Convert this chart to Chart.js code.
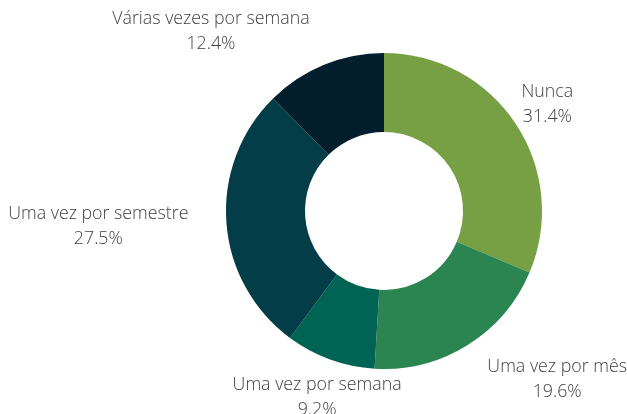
<!DOCTYPE html>
<html>
<head>
<meta charset="utf-8">
<script src="https://cdn.jsdelivr.net/npm/chart.js@4"></script>
<style>
  html, body { margin: 0; padding: 0; background: #fff; }
  #wrap { width: 627px; height: 414px; position: relative; }
</style>
</head>
<body>
<div id="wrap"><canvas id="myChart"></canvas></div>
<script>
const categories = [
  'Nunca',
  'Uma vez por mês',
  'Uma vez por semana',
  'Uma vez por semestre',
  'Várias vezes por semana',
];
const percents = [31.4, 19.6, 9.2, 27.5, 12.4];

const sliceColors = ['#76a043', '#2b8550', '#006353', '#033d47', '#031f2d'];
// how each label block sits against its anchor point
const labelAlign = ['center', 'left', 'center', 'right', 'right'];

const outsideLabels = {
  id: 'outsideLabels',
  afterDraw(chart) {
    const ctx = chart.ctx;
    const meta = chart.getDatasetMeta(0);
    ctx.save();
    ctx.font = '300 17.8px "Open Sans"';
    ctx.fillStyle = '#404040';
    ctx.textAlign = 'center';
    ctx.textBaseline = 'middle';
    meta.data.forEach((arc, i) => {
      const p = arc.getProps(['x', 'y', 'startAngle', 'endAngle', 'outerRadius'], true);
      const mid = (p.startAngle + p.endAngle) / 2;
      const r = p.outerRadius + 38;
      const ax = p.x + Math.cos(mid) * r;
      const ay = p.y + Math.sin(mid) * r + 2;
      const lines = [categories[i], percents[i].toFixed(1) + '%'];
      const w = Math.max(...lines.map(t => ctx.measureText(t).width));
      let cx = ax;
      if (labelAlign[i] === 'left') cx = ax + w / 2;
      if (labelAlign[i] === 'right') cx = ax - w / 2;
      ctx.fillText(lines[0], cx, ay - 12.5);
      ctx.fillText(lines[1], cx, ay + 12.5);
    });
    ctx.restore();
  }
};

window.onload = function() {
  const config = {
    type: 'doughnut',
    data: {
      labels: categories,
      datasets: [{
        data: percents,
        backgroundColor: sliceColors,
        borderWidth: 0,
      }]
    },
    options: {
      responsive: true,
      maintainAspectRatio: false,
      animation: false,
      cutout: '50%',
      layout: {
        padding: { top: 53, bottom: 45, left: 226, right: 85 }
      },
      plugins: {
        legend: { display: false },
        tooltip: { enabled: false },
      }
    },
    plugins: [outsideLabels],
  };

  const myChart = new Chart(
    document.getElementById('myChart').getContext('2d'),
    config
  );
};
</script>
</body>
</html>
